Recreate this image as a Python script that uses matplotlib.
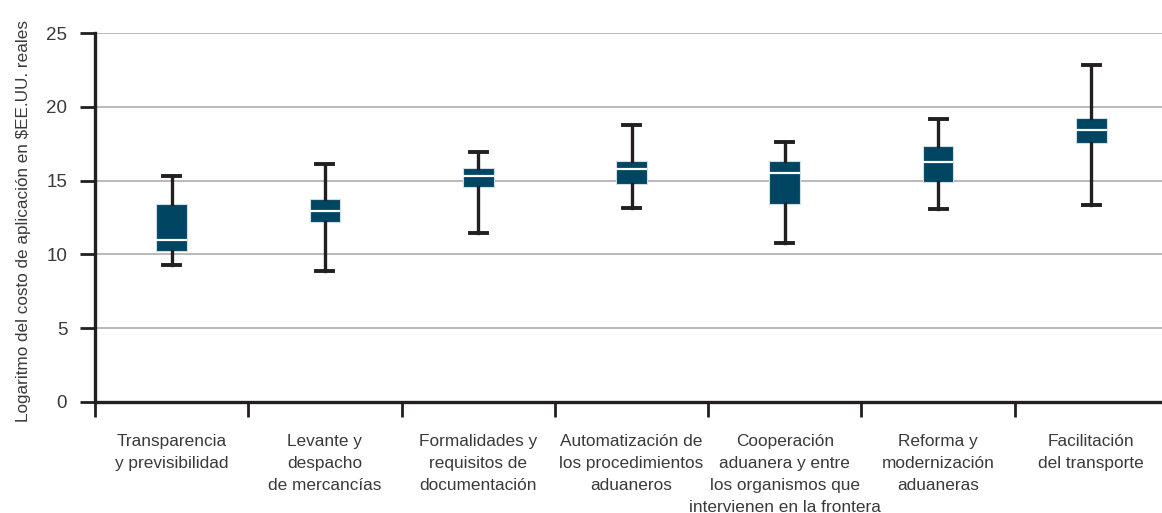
import matplotlib
matplotlib.use("Agg")
import matplotlib.pyplot as plt

categories = [
    "Transparencia\ny previsibilidad",
    "Levante y\ndespacho\nde mercancías",
    "Formalidades y\nrequisitos de\ndocumentación",
    "Automatización de\nlos procedimientos\naduaneros",
    "Cooperación\naduanera y entre\nlos organismos que\nintervienen en la frontera",
    "Reforma y\nmodernización\naduaneras",
    "Facilitación\ndel transporte",
]
whisker_low = [9.26, 8.85, 11.45, 13.12, 10.75, 13.05, 13.33]
q1 = [10.25, 12.17, 14.57, 14.79, 13.41, 14.91, 17.53]
median = [10.98, 12.96, 15.33, 15.77, 15.54, 16.24, 18.41]
q3 = [13.39, 13.73, 15.83, 16.31, 16.31, 17.32, 19.24]
whisker_high = [15.31, 16.10, 16.92, 18.75, 17.59, 19.15, 22.81]
y_ticks = [0, 5, 10, 15, 20, 25]
y_label = "Logaritmo del costo de aplicación en $EE.UU. reales"

plt.rcParams["font.family"] = ["Liberation Sans", "DejaVu Sans"]
text_color = "#3a3a3a"
dark = "#231f20"
box_color = "#004663"

fig = plt.figure(figsize=(11.62, 5.13), dpi=100)
ax = fig.add_axes([95 / 1162, 1 - 402 / 513, (1168 - 95) / 1162, (402 - 33) / 513])

stats = []
for i in range(len(categories)):
    stats.append(dict(whislo=whisker_low[i], q1=q1[i], med=median[i],
                      q3=q3[i], whishi=whisker_high[i], fliers=[]))

positions = list(range(1, len(categories) + 1))
ax.bxp(stats, positions=positions, widths=0.2, patch_artist=True,
       showfliers=False, capwidths=0.11,
       boxprops=dict(facecolor=box_color, edgecolor="#cfdde4", linewidth=0.8),
       medianprops=dict(color="white", linewidth=1.6),
       whiskerprops=dict(color=dark, linewidth=2.4),
       capprops=dict(color=dark, linewidth=2.8),
       zorder=3)

ax.set_xlim(0.5, len(categories) + 0.5)
ax.set_ylim(0, 25)
ax.set_yticks(y_ticks)
ax.set_yticklabels([str(v) for v in y_ticks])
for v in y_ticks[1:]:
    ax.axhline(v, color="#adadad", linewidth=1.2, zorder=1)

# boundary ticks between categories
ax.set_xticks([p + 0.5 for p in [0] + positions[:-1]])
ax.set_xticklabels([])
ax.tick_params(axis="x", which="major", length=11, width=2, color=dark, direction="out")
ax.tick_params(axis="y", length=11, width=2, color=dark, direction="out", pad=9,
               labelsize=13.5, labelcolor=text_color)

# category labels, one line at a time (22 px line pitch)
for pos, label in zip(positions, categories):
    for j, line in enumerate(label.split("\n")):
        ax.annotate(line, xy=(pos, 0), xycoords=("data", "axes fraction"),
                    xytext=(0, -44 - 22 * j), textcoords="offset pixels",
                    ha="center", va="baseline", fontsize=12.4, color=text_color,
                    annotation_clip=False)

for s in ["top", "right"]:
    ax.spines[s].set_visible(False)
for s in ["left", "bottom"]:
    ax.spines[s].set_linewidth(2.4)
    ax.spines[s].set_color(dark)

fig.text(24 / 1162, 1 - 221 / 513, y_label, rotation=90, ha="center", va="center",
         fontsize=12.3, color=text_color)

fig.savefig("out.png", dpi=100)
